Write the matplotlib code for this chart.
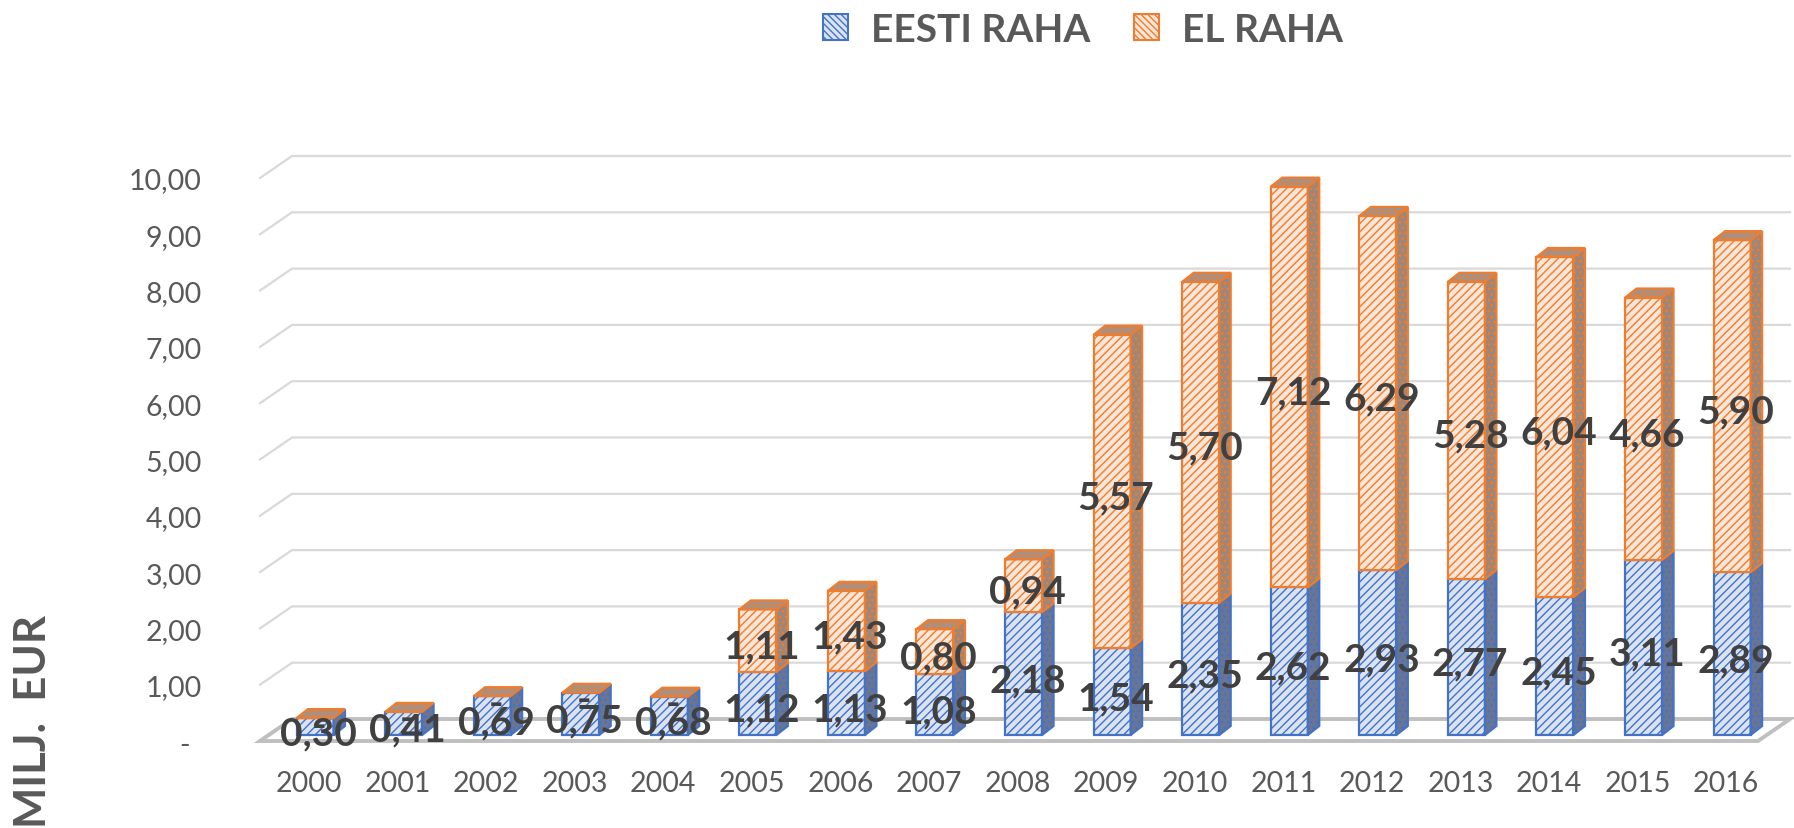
import matplotlib
matplotlib.use("Agg")
import matplotlib.pyplot as plt
from matplotlib.patches import Polygon, Patch

# ---------------- data ----------------
years = [str(y) for y in range(2000, 2017)]
eesti_raha = [0.30, 0.41, 0.69, 0.75, 0.68, 1.12, 1.13, 1.08, 2.18, 1.54,
              2.35, 2.62, 2.93, 2.77, 2.45, 3.11, 2.89]
el_raha = [0.00, 0.00, 0.00, 0.00, 0.00, 1.11, 1.43, 0.80, 0.94, 5.57,
           5.70, 7.12, 6.29, 5.28, 6.04, 4.66, 5.90]
series_names = ["EESTI RAHA", "EL RAHA"]
y_ticks = list(range(0, 11))
y_tick_labels = ["-"] + [f"{v},00" for v in range(1, 11)]
y_title = "MILJ.  EUR"

# ---------------- style ----------------
plt.rcParams["font.family"] = ["Lato", "DejaVu Sans"]
plt.rcParams["hatch.linewidth"] = 1.0

W, H = 1794, 829
PX_CAT = 88.57     # pixels per category
PX_VAL = 56.3      # pixels per value unit
X0_PX = 315        # pixel x of category 0 (bar front center)
Y0_PX = 736        # pixel y (from top) of value 0 at bar front

fig = plt.figure(figsize=(W / 100, H / 100), dpi=100)
ax = fig.add_axes([0, 0, 1, 1])
ax.set_xlim(-X0_PX / PX_CAT, (W - X0_PX) / PX_CAT)
ax.set_ylim(-(H - Y0_PX) / PX_VAL, Y0_PX / PX_VAL)
ax.axis("off")


def cx(p):
    return p / PX_CAT


def cy(p):
    return p / PX_VAL


# wall / floor geometry
floor_front = -cy(6)
wall_dx, wall_dy = cx(32), cy(22)
x_left = cx(260 - X0_PX)
x_right_back = cx(1790 - X0_PX)

grid_col = "#d9d9d9"
floor_col = "#bfbfbf"
for v in y_ticks[1:]:
    yf = v + floor_front
    ax.plot([x_left, x_left + wall_dx, x_right_back],
            [yf, yf + wall_dy, yf + wall_dy],
            color=grid_col, lw=1.6, solid_joinstyle="miter", zorder=1)

floor = Polygon([(x_left, floor_front),
                 (x_left + wall_dx, floor_front + wall_dy),
                 (x_right_back, floor_front + wall_dy),
                 (x_right_back - wall_dx, floor_front)],
                closed=True, fill=False, ec=floor_col, lw=2.8,
                joinstyle="miter", zorder=1.5)
ax.add_patch(floor)

tick_kw = dict(fontsize=20.5, color="#595959", va="center_baseline")
# y tick labels
for v, lab in zip(y_ticks, y_tick_labels):
    if lab == "-":
        ax.text(cx(184 - X0_PX), v + floor_front - cy(2), lab, ha="center", **tick_kw)
    else:
        ax.text(cx(202 - X0_PX), v + floor_front, lab, ha="right", **tick_kw)

# x tick labels
for i, yr in enumerate(years):
    ax.text(i - cx(6), -cy(46), yr, ha="center", **tick_kw)

# bars
bw = cx(37)
ddx, ddy = cx(11.5), cy(9)

styles = {
    "blue": dict(face="#dae3f3", edge="#4472c4", side="#6a7593", top="#7886a4"),
    "orange": dict(face="#fbe5d6", edge="#ed7d31", side="#a08676", top="#ab9080"),
}


def draw_segment(x, y0, y1, st, draw_top, z):
    l, r = x - bw / 2, x + bw / 2
    if y1 > y0:
        ax.add_patch(Polygon([(l, y0), (r, y0), (r, y1), (l, y1)], closed=True,
                             fc=st["face"], ec=st["edge"], hatch="////",
                             lw=1.6, joinstyle="miter", zorder=z))
        ax.add_patch(Polygon([(r, y0), (r + ddx, y0 + ddy), (r + ddx, y1 + ddy),
                              (r, y1)], closed=True, fc=st["side"], ec=st["edge"],
                             hatch="...", lw=1.6, joinstyle="miter", zorder=z))
    if draw_top:
        ax.add_patch(Polygon([(l, y1), (l + ddx, y1 + ddy), (r + ddx, y1 + ddy),
                              (r, y1)], closed=True, fc=st["top"], ec=st["edge"],
                             hatch="...", lw=1.6, joinstyle="miter", zorder=z + 0.1))


def fmt(v):
    return f"{v:.2f}".replace(".", ",")


lab_kw = dict(ha="center", va="center_baseline", fontsize=28, weight="bold",
              color="#404040", zorder=20)

for i, (b, o) in enumerate(zip(eesti_raha, el_raha)):
    draw_segment(i, 0, b, styles["blue"], False, 3)
    draw_segment(i, b, b + o, styles["orange"], True, 4)

for i, (b, o) in enumerate(zip(eesti_raha, el_raha)):
    lx = i + ddx / 2 - cx(2)
    if o > 0:
        ax.text(lx, b + o / 2 - cy(2), fmt(o), **lab_kw)
    else:
        ax.text(lx, b - cy(4), "-", **lab_kw)
    ax.text(lx, b / 2 - cy(3), fmt(b), **lab_kw)

# y-axis title
fig.text(33 / W, 1 - 721.5 / H, y_title, rotation=90, ha="center", va="center",
         fontsize=31.5, weight="bold", color="#595959")

# legend
handles = [Patch(fc=styles["blue"]["face"], ec=styles["blue"]["edge"],
                 hatch="\\\\\\\\\\", lw=1.5),
           Patch(fc=styles["orange"]["face"], ec=styles["orange"]["edge"],
                 hatch="\\\\\\\\\\", lw=1.5)]
fig.legend(handles, series_names, loc="center",
           bbox_to_anchor=(1083 / W, 1 - 30.5 / H), ncol=2, frameon=False,
           prop=dict(family="Lato", weight="bold", size=28),
           labelcolor="#595959", handlelength=0.64, handleheight=0.64,
           handletextpad=0.59, columnspacing=1.13, borderpad=0, borderaxespad=0)

fig.savefig("out.png", dpi=100)
